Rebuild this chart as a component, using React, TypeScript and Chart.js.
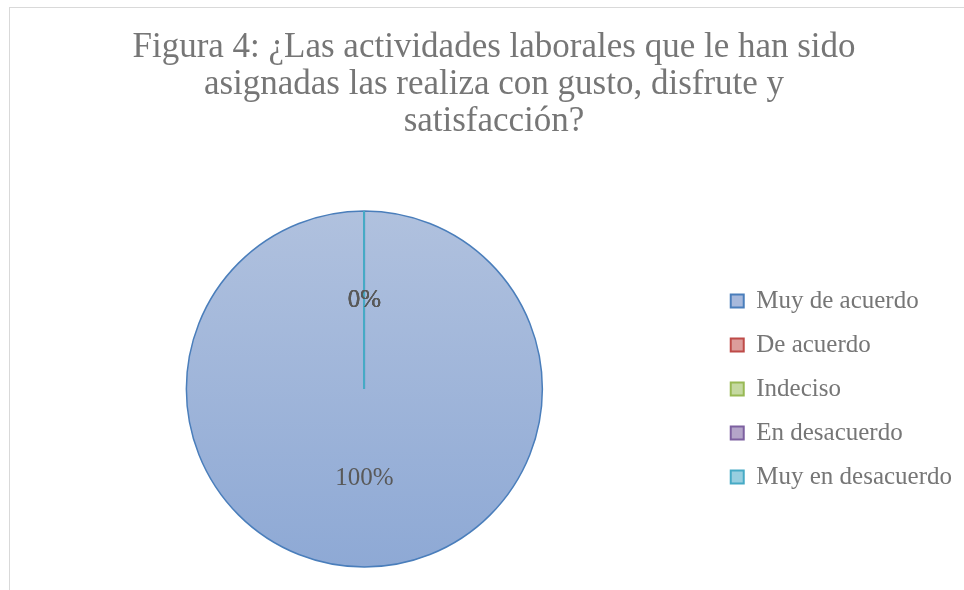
import React, { useEffect, useRef } from "react";
import { Chart, registerables } from "chart.js";

Chart.register(...registerables);

const titleLines = [
  "Figura 4: ¿Las actividades laborales que le han sido",
  "asignadas las realiza con gusto, disfrute y",
  "satisfacción?",
];
const categories = ["Muy de acuerdo", "De acuerdo", "Indeciso", "En desacuerdo", "Muy en desacuerdo"];
const values = [100, 0, 0, 0, 0];
const borderColors = ["#4a7ebb", "#be4b48", "#98b954", "#7d60a0", "#46aac5"];
const legendFills = ["#a7b9dc", "#dc9d9b", "#c5d9a1", "#b4a5c9", "#98cfe0"];
const gradTop = ["#b0c1de", "#e0aaa8", "#cfe0b0", "#c2b5d4", "#a8d8e6"];
const gradBottom = ["#8ea9d5", "#d58a88", "#b8cf8c", "#a592bd", "#86c6d9"];

const FONT = "'Liberation Serif', 'DejaVu Serif', serif";
const TEXT = "#767676";

const zeroLinePlugin = {
  id: "zeroLines",
  afterDatasetsDraw(chart: any) {
    const meta = chart.getDatasetMeta(0);
    const ctx = chart.ctx;
    ctx.save();
    meta.data.forEach((arc: any, i: number) => {
      const p = arc.getProps(["x", "y", "startAngle", "endAngle", "outerRadius"], true);
      if (p.endAngle - p.startAngle === 0) {
        const x0 = Math.round(p.x);
        ctx.strokeStyle = borderColors[i];
        ctx.lineWidth = 2;
        ctx.beginPath();
        ctx.moveTo(x0, p.y);
        ctx.lineTo(x0 + Math.cos(p.startAngle) * p.outerRadius, p.y + Math.sin(p.startAngle) * p.outerRadius);
        ctx.stroke();
      }
    });
    const ds = chart.data.datasets[0].data as number[];
    const total = ds.reduce((a, b) => a + b, 0);
    ctx.font = `25px ${FONT}`;
    ctx.fillStyle = "#595959";
    ctx.textAlign = "center";
    ctx.textBaseline = "middle";
    meta.data.forEach((arc: any, i: number) => {
      const p = arc.getProps(["x", "y", "startAngle", "endAngle", "outerRadius"], true);
      const mid = (p.startAngle + p.endAngle) / 2;
      const r = p.outerRadius * 0.5;
      const pct = Math.round((ds[i] / total) * 100) + "%";
      ctx.fillText(pct, p.x + Math.cos(mid) * r, p.y + Math.sin(mid) * r);
    });
    ctx.restore();
  },
};

const layoutTweakPlugin = {
  id: "layoutTweak",
  afterLayout(chart: any) {
    const t = chart.titleBlock;
    if (t) {
      const c = 484;
      t.left = c - 460;
      t.right = c + 460;
      t.width = 920;
    }
    const lg = chart.legend;
    if (lg) {
      lg.top = chart.chartArea.top;
      lg.bottom = chart.chartArea.bottom;
      lg.height = lg.bottom - lg.top;
    }
  },
};

export default function App() {
  const ref = useRef<HTMLCanvasElement>(null);
  useEffect(() => {
    if (!ref.current) return;
    const chart = new Chart(ref.current, {
      type: "pie",
      data: {
        labels: categories,
        datasets: [
          {
            data: values,
            radius: 178,
            backgroundColor: (c: any) => {
              const area = c.chart.chartArea;
              const i = c.dataIndex ?? 0;
              if (!area) return legendFills[i];
              const g = c.chart.ctx.createLinearGradient(0, area.top, 0, area.bottom);
              g.addColorStop(0, gradTop[i]);
              g.addColorStop(1, gradBottom[i]);
              return g;
            },
            borderColor: borderColors,
            borderWidth: 1.5,
          } as any,
        ],
      },
      options: {
        animation: false,
        responsive: true,
        maintainAspectRatio: false,
        layout: { padding: { left: 7, right: 19, top: 0, bottom: 23 } },
        plugins: {
          tooltip: { enabled: false },
          title: {
            display: true,
            text: titleLines,
            color: TEXT,
            font: { family: FONT, size: 35, weight: "normal", lineHeight: "37px" as any },
            padding: { top: 21, bottom: 71 },
          },
          legend: {
            position: "right",
            align: "center",
            labels: {
              boxWidth: 13,
              boxHeight: 13,
              padding: 19,
              color: TEXT,
              font: { family: FONT, size: 25 },
              generateLabels: () =>
                categories.map((t, i) => ({
                  text: t,
                  fillStyle: legendFills[i],
                  strokeStyle: borderColors[i],
                  lineWidth: 2,
                  hidden: false,
                  index: i,
                  fontColor: TEXT,
                })),
            },
          },
        },
      },
      plugins: [zeroLinePlugin, layoutTweakPlugin],
    });
    return () => chart.destroy();
  }, []);

  return (
    <div
      style={{
        position: "absolute",
        left: 9,
        top: 7,
        width: 955,
        height: 583,
        overflow: "hidden",
        borderLeft: "1px solid #d9d9d9",
        borderTop: "1px solid #d9d9d9",
        boxSizing: "border-box",
        background: "#fff",
      }}
    >
      <div style={{ width: 971, height: 582, position: "relative" }}>
        <canvas ref={ref} />
      </div>
    </div>
  );
}
